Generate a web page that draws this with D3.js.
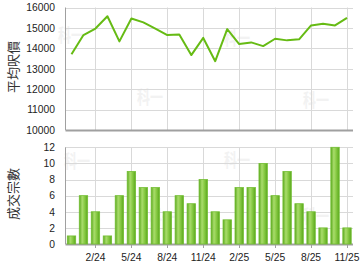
<!DOCTYPE html>
<html>
<head>
<meta charset="utf-8">
<script src="https://cdn.jsdelivr.net/npm/d3@7"></script>
<style>
  body { margin: 0; background: #fff; }
  svg { display: block; }
</style>
</head>
<body>
<div id="chart"></div>
<script>
// data
const months = ["12/23", "1/24", "2/24", "3/24", "4/24", "5/24", "6/24", "7/24", "8/24", "9/24", "10/24", "11/24",
    "12/24", "1/25", "2/25", "3/25", "4/25", "5/25", "6/25", "7/25", "8/25", "9/25", "10/25", "11/25"];
const avgPrice = [13710, 14650, 14970, 15570, 14340, 15460, 15270, 14970, 14650, 14680, 13670, 14510,
    13370, 14940, 14210, 14290, 14110, 14470, 14390, 14440, 15120, 15200, 15120, 15490];
const deals = [1, 6, 4, 1, 6, 9, 7, 7, 4, 6, 5, 8, 4, 3, 7, 7, 10, 6, 9, 5, 4, 2, 12, 2];
const tickMonths = ["2/24", "5/24", "8/24", "11/24", "2/25", "5/25", "8/25", "11/25"];
const priceTicks = [10000, 11000, 12000, 13000, 14000, 15000, 16000];
const dealTicks = [0, 2, 4, 6, 8, 10, 12];

const WIDTH = 360;
const HEIGHT = 270;
const LEFT = 65.5;
const RIGHT = 353;
const GRID = "#d9d9d9";
const AXIS = "#a0a0a0";
const FONT = "'Liberation Sans', Arial, sans-serif";
const CJK = "'Noto Sans CJK TC', 'Noto Sans CJK SC', sans-serif";

let svg = d3.select("#chart")
    .append("svg")
    .attr("width", WIDTH)
    .attr("height", HEIGHT);

// gradient for the bars
const grad = svg.append("defs")
    .append("linearGradient")
    .attr("id", "barGrad")
    .attr("x1", "0%").attr("x2", "100%").attr("y1", "0%").attr("y2", "0%");
grad.append("stop").attr("offset", "0%").attr("stop-color", "#5aa81c");
grad.append("stop").attr("offset", "35%").attr("stop-color", "#a9dc6c");
grad.append("stop").attr("offset", "60%").attr("stop-color", "#8ccd48");
grad.append("stop").attr("offset", "100%").attr("stop-color", "#5aa81c");

const x = d3.scaleBand()
    .domain(months)
    .range([LEFT, RIGHT])
    .paddingInner(0.3)
    .paddingOuter(0.15);

const cx = m => x(m) + x.bandwidth() / 2;

const yTop = d3.scaleLinear().domain([10000, 16000]).range([130, 7.5]);
const yBot = d3.scaleLinear().domain([0, 12]).range([244, 147.3]);

// faint watermarks
const marks = [[71, 27], [150, 89], [237, 30], [316, 92], [77, 153], [162, 209], [237, 152], [316, 208]];
svg.append("g")
    .selectAll("text")
    .data(marks)
    .enter()
    .append("text")
    .attr("transform", d => `translate(${d[0]},${d[1]}) scale(1,1.4)`)
    .attr("dy", "0.8em")
    .attr("text-anchor", "middle")
    .attr("font-family", CJK)
    .attr("font-weight", "bold")
    .attr("font-size", 13)
    .attr("fill", "#f2f2f2")
    .text("科一");

// draws grid + y axis for one panel
const drawPanel = (y, ticks, fmt) => {
    const g = svg.append("g");

    g.selectAll(".hgrid")
        .data(ticks)
        .enter()
        .append("line")
        .attr("x1", LEFT).attr("x2", RIGHT)
        .attr("y1", d => Math.round(y(d)) + 0.5)
        .attr("y2", d => Math.round(y(d)) + 0.5)
        .attr("stroke", GRID);

    g.selectAll(".vgrid")
        .data(tickMonths)
        .enter()
        .append("line")
        .attr("x1", d => Math.round(cx(d)) + 0.5)
        .attr("x2", d => Math.round(cx(d)) + 0.5)
        .attr("y1", y.range()[1])
        .attr("y2", y.range()[0])
        .attr("stroke", GRID);

    g.selectAll(".ylab")
        .data(ticks)
        .enter()
        .append("text")
        .attr("x", 55)
        .attr("y", d => y(d) + 3.8)
        .attr("text-anchor", "end")
        .attr("font-family", FONT)
        .attr("font-size", 10.3)
        .attr("fill", "#222")
        .text(fmt);

    // left axis
    g.append("line")
        .attr("x1", LEFT).attr("x2", LEFT)
        .attr("y1", y.range()[1]).attr("y2", y.range()[0])
        .attr("stroke", AXIS);

    // bottom axis
    g.append("line")
        .attr("x1", LEFT).attr("x2", RIGHT)
        .attr("y1", y.range()[0] + 0.5).attr("y2", y.range()[0] + 0.5)
        .attr("stroke", AXIS)
        .attr("stroke-width", 2);
};

drawPanel(yTop, priceTicks, d => d);
drawPanel(yBot, dealTicks, d => d);

// price line
const line = d3.line()
    .x((d, i) => cx(months[i]))
    .y(d => yTop(d));

svg.append("path")
    .datum(avgPrice)
    .attr("d", line)
    .attr("fill", "none")
    .attr("stroke", "#66bb14")
    .attr("stroke-width", 2)
    .attr("stroke-linejoin", "round");

// deal bars
svg.append("g")
    .selectAll("rect")
    .data(deals)
    .enter()
    .append("rect")
    .attr("x", (d, i) => x(months[i]))
    .attr("y", d => yBot(d))
    .attr("width", x.bandwidth())
    .attr("height", d => yBot(0) - yBot(d))
    .attr("fill", "url(#barGrad)")
    .attr("stroke", "#73bf33")
    .attr("stroke-width", 0.8);

// x tick marks and labels
const xt = svg.append("g");
xt.selectAll("line")
    .data(tickMonths)
    .enter()
    .append("line")
    .attr("x1", d => Math.round(cx(d)) + 0.5)
    .attr("x2", d => Math.round(cx(d)) + 0.5)
    .attr("y1", 245).attr("y2", 248)
    .attr("stroke", AXIS);

xt.selectAll("text")
    .data(tickMonths)
    .enter()
    .append("text")
    .attr("x", d => cx(d))
    .attr("y", 260.5)
    .attr("text-anchor", "middle")
    .attr("font-family", FONT)
    .attr("font-size", 10.3)
    .attr("fill", "#222")
    .text(d => d);

// y titles
const title = (txt, cy) => {
    svg.append("text")
        .attr("transform", `translate(18,${cy}) rotate(-90)`)
        .attr("text-anchor", "middle")
        .attr("font-family", CJK)
        .attr("font-size", 13)
        .attr("fill", "#333")
        .text(txt);
};
title("平均呎價", 67);
title("成交宗數", 194);
</script>
</body>
</html>
